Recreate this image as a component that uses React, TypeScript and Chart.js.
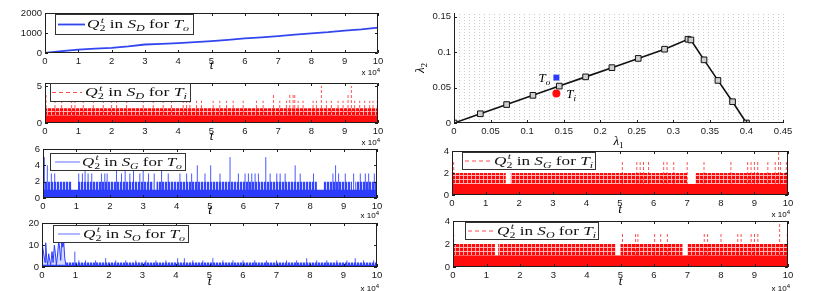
import React, { useEffect, useRef } from "react";
import { Chart, registerables } from "chart.js";

Chart.register(...registerables);

const W = 822;
const H = 291;
const T_UNIT = 1e4;
const SANS = "'Liberation Sans', Arial, Helvetica, sans-serif";
const SERIF = "'Liberation Serif', 'Times New Roman', serif";
const BLUE = "#2b3cff";
const RED = "#ff0d0d";

/* ---------------- data (time in units of 10^4) ---------------- */
// Panel 1: Q2 in S_D for T_o
const sdToTime = [0, 0.5, 1, 1.5, 2, 2.5, 3, 3.5, 4, 4.5, 5, 5.5, 6, 6.5, 7, 7.5, 8, 8.5, 9, 9.5, 10];
const sdToQueue = [0, 95, 170, 215, 255, 330, 424, 460, 491, 540, 593, 660, 729, 780, 847, 920, 983, 1040, 1119, 1185, 1271];

// Panel 2: Q2 in S_D for T_i
const sdTiLevel1 = [[0, 10]];
const sdTiLevel2 = [[0, 10]];
const sdTiSpikeT = [0.03, 0.3, 0.5, 0.8, 0.9, 1.15, 1.45, 1.75, 2.0, 2.15, 2.45, 2.95, 3.25, 3.55, 3.8, 4.15, 4.25, 4.35, 4.55, 4.7, 5.05, 5.25, 5.45, 5.65, 5.95, 6.35, 6.55, 6.86, 7.05, 7.25, 7.35, 7.45, 7.5, 7.6, 7.75, 8.05, 8.15, 8.3, 8.45, 8.6, 8.8, 8.95, 9.1, 9.2, 9.3, 9.45, 9.6, 9.75, 9.85, 9.98];
const sdTiSpikeV = [4, 3, 3, 3, 3, 3, 3, 3, 3, 3, 3, 3, 3, 3, 3, 3, 3, 3, 3, 3, 3, 3, 3, 3, 3, 3, 3, 4, 3, 3, 4, 4, 4, 3, 3, 3, 3, 5, 3, 3, 3, 3, 4, 5, 3, 3, 3, 3, 3, 3];

// Panel 3: Q2 in S_G for T_o
const sgToLevel1 = [[0, 10]];
const sgToLevel2 = [[0, 0.85], [1.05, 3.3], [3.4, 8.2], [8.4, 9.25], [9.35, 10]];
const sgToSpikeT = [0.04, 0.13, 0.25, 0.35, 1.07, 1.18, 1.26, 1.35, 1.46, 1.75, 1.85, 1.92, 2.2, 2.35, 2.46, 2.6, 2.71, 2.9, 3.0, 3.16, 3.33, 3.55, 3.75, 4.1, 4.3, 4.45, 4.62, 4.85, 5.02, 5.3, 5.6, 5.85, 6.05, 6.15, 6.25, 6.35, 6.45, 6.67, 6.8, 7.0, 7.1, 7.25, 7.55, 7.7, 8.1, 8.68, 8.76, 8.85, 9.05, 9.3, 9.5, 9.65, 9.75, 9.92];
const sgToSpikeV = [5, 4, 3, 3, 3, 3, 4, 3, 3, 3, 3, 3, 4, 3, 4, 3, 4, 3, 4, 3, 3, 4, 3, 3, 3, 3, 4, 3, 4, 3, 5, 3, 3, 3, 3, 3, 3, 5, 3, 3, 3, 3, 4, 3, 3, 3, 4, 3, 3, 3, 3, 3, 3, 3];

// Panel 4: Q2 in S_O for T_o
const soToEarlyT = [0, 0.002, 0.02, 0.05, 0.09, 0.11, 0.14, 0.17, 0.2, 0.23, 0.26, 0.3, 0.33, 0.37, 0.4, 0.43, 0.46, 0.5, 0.53, 0.56, 0.59, 0.62, 0.65, 0.68, 0.71, 0.73];
const soToEarlyQ = [0, 9, 10, 6, 2, 11, 4, 1, 6, 3, 1, 7, 2, 10, 6, 1, 5, 12, 8, 3, 13, 9, 11, 4, 1, 0];
const soToLevel1 = [[0, 10]];
const soToLevel2 = [[0.72, 10]];
const soToSpikeT = [0.98, 1.1, 1.3, 1.6, 1.9, 2.2, 2.5, 2.8, 3.1, 3.4, 3.7, 4.05, 4.25, 4.5, 4.8, 5.1, 5.4, 5.7, 6.0, 6.35, 6.7, 7.0, 7.3, 7.6, 7.9, 8.2, 8.5, 8.8, 9.1, 9.35, 9.6, 9.9];
const soToSpikeV = [7, 3, 3, 3, 4, 3, 3, 3, 3, 3, 3, 4, 4, 3, 3, 4, 3, 3, 3, 3, 3, 3, 3, 3, 4, 3, 3, 3, 3, 4, 3, 3];

// Panel 5: stability region (lambda1, lambda2)
const boundaryL1 = [0, 0.036, 0.072, 0.108, 0.144, 0.18, 0.216, 0.252, 0.288, 0.32, 0.324, 0.342, 0.361, 0.381, 0.4];
const boundaryL2 = [0, 0.013, 0.026, 0.039, 0.052, 0.065, 0.078, 0.091, 0.104, 0.118, 0.117, 0.089, 0.06, 0.03, 0];
const pointTo = [0.14, 0.064];
const pointTi = [0.14, 0.0415];

// Panel 6: Q2 in S_G for T_i
const sgTiLevel1 = [[0, 10]];
const sgTiLevel2 = [[0, 1.6], [1.75, 7.0], [7.25, 10]];
const sgTiSpikeT = [0.05, 5.07, 5.5, 5.6, 5.7, 5.85, 6.3, 6.4, 6.6, 7.0, 7.5, 8.3, 8.8, 8.9, 9.0, 9.1, 9.4, 9.62, 9.72, 9.78, 9.95];
const sgTiSpikeV = [3, 3, 3, 3, 3, 3, 3, 3, 3, 3, 3, 3, 3, 3, 3, 3, 3, 3, 4, 3, 3];

// Panel 7: Q2 in S_O for T_i
const soTiLevel1 = [[0, 10]];
const soTiLevel2 = [[0, 1.25], [1.35, 4.85], [5.0, 6.85], [7.0, 10]];
const soTiSpikeT = [0.02, 5.06, 5.45, 5.52, 6.02, 6.2, 6.4, 7.5, 7.6, 8.0, 8.5, 8.6, 8.9, 9.0, 9.1, 9.75, 9.98];
const soTiSpikeV = [3, 3, 3, 3, 3, 3, 3, 3, 3, 3, 3, 3, 3, 3, 3, 4, 3];

/* ---------------- text ---------------- */
type Piece = { t: string; it?: boolean; sub?: string; subIt?: boolean; sup?: string; supIt?: boolean };
const legendPieces = (s: string, tgt: string): Piece[] => [
  { t: "Q", it: true, sub: "2", sup: "t", supIt: true },
  { t: " in " },
  { t: "S", it: true, sub: s, subIt: true },
  { t: " for " },
  { t: "T", it: true, sub: tgt, subIt: true },
];

function drawMath(ctx: CanvasRenderingContext2D, x: number, y: number, pieces: Piece[], size: number, draw = true) {
  let cx = x;
  const small = size * 0.7;
  for (const p of pieces) {
    ctx.font = `${p.it ? "italic " : ""}${size}px ${SERIF}`;
    if (draw) ctx.fillText(p.t, cx, y);
    cx += ctx.measureText(p.t).width;
    if (p.sub || p.sup) {
      let w = 0;
      if (p.sup) {
        ctx.font = `${p.supIt ? "italic " : ""}${small}px ${SERIF}`;
        if (draw) ctx.fillText(p.sup, cx + 1, y - size * 0.42);
        w = Math.max(w, ctx.measureText(p.sup).width + 1);
      }
      if (p.sub) {
        ctx.font = `${p.subIt ? "italic " : ""}${small}px ${SERIF}`;
        if (draw) ctx.fillText(p.sub, cx, y + size * 0.24);
        w = Math.max(w, ctx.measureText(p.sub).width);
      }
      cx += w;
    }
  }
  return cx - x;
}

/* ---------------- helpers ---------------- */
function levelData(segs: number[][], level: number) {
  const pts: any[] = [{ x: 0, y: 0 }];
  for (const [a, b] of segs) {
    pts.push({ x: a * T_UNIT, y: 0 }, { x: a * T_UNIT, y: level }, { x: b * T_UNIT, y: level }, { x: b * T_UNIT, y: 0 });
  }
  pts.push({ x: 10 * T_UNIT, y: 0 });
  return pts;
}
function spikeData(ts: number[], vs: number[]) {
  const pts: any[] = [];
  ts.forEach((t, i) => {
    pts.push({ x: t * T_UNIT, y: 0 }, { x: t * T_UNIT, y: vs[i] }, { x: t * T_UNIT, y: null });
  });
  return pts;
}
function makePattern(ctx: CanvasRenderingContext2D, fg: string, bg: string, w: number, h: number, sw: number, sh: number) {
  const c = document.createElement("canvas");
  c.width = w;
  c.height = h;
  const g = c.getContext("2d")!;
  g.fillStyle = bg;
  g.fillRect(0, 0, w, h);
  g.fillStyle = fg;
  g.fillRect(0, 0, sw, sh);
  return ctx.createPattern(c, "repeat");
}
function noisyDatasets(ctx: CanvasRenderingContext2D, red: boolean, l1: number[][], l2: number[][], st: number[], sv: number[]) {
  const pat = red
    ? makePattern(ctx, "rgba(255,0,0,0.95)", "rgba(255,80,80,0.45)", 4, 4, 3, 3)
    : makePattern(ctx, "rgba(43,60,255,0.95)", "rgba(110,125,255,0.35)", 3, 1, 2, 1);
  return [
    { data: levelData(l1, 1), backgroundColor: red ? RED : BLUE, borderColor: "transparent", borderWidth: 0, fill: "origin", pointRadius: 0 },
    { data: levelData(l2, 2), backgroundColor: pat, borderColor: "transparent", borderWidth: 0, fill: "origin", pointRadius: 0 },
    {
      data: spikeData(st, sv),
      borderColor: red ? "rgba(255,40,40,0.8)" : "rgba(43,60,255,0.85)",
      borderWidth: 1,
      borderDash: red ? [3, 2] : [],
      fill: false,
      pointRadius: 0,
    },
  ];
}

type Legend = { box: number[]; sample: number[]; color: string; lw: number; dash: number[]; tx: number; tw: number; pieces: Piece[] };
type Panel = {
  rect: number[];
  x: { min: number; max: number; step: number; fmt: (v: number) => string };
  y: { min: number; max: number; step: number; fmt: (v: number) => string };
  frame: "box" | "axes";
  datasets: (ctx: CanvasRenderingContext2D) => any[];
  legend?: Legend;
  tLabel?: number[]; // [y of "t", y of "x 10^4"]
  extra?: (chart: any) => void;
  under?: (chart: any) => void;
};

const tFmt = (v: number) => String(Math.round(v / T_UNIT));
const numFmt = (v: number) => String(Number(v.toFixed(3)));
const tAxis = { min: 0, max: 10 * T_UNIT, step: T_UNIT, fmt: tFmt };

const PANELS: Panel[] = [
  {
    rect: [45, 13, 378, 53],
    x: tAxis,
    y: { min: 0, max: 2000, step: 1000, fmt: numFmt },
    frame: "box",
    datasets: () => [
      {
        data: sdToTime.map((t, i) => ({ x: t * T_UNIT, y: sdToQueue[i] })),
        borderColor: "#3246f0",
        borderWidth: 1.8,
        fill: false,
        pointRadius: 0,
      },
    ],
    legend: { box: [55, 14, 138, 20], sample: [58, 85], color: "#3246f0", lw: 1.8, dash: [], tx: 87, tw: 102, pieces: legendPieces("D", "o") },
    tLabel: [66, 72],
  },
  {
    rect: [45, 83, 378, 123],
    x: tAxis,
    y: { min: 0, max: 5.4, step: 5, fmt: numFmt },
    frame: "box",
    datasets: (ctx) => noisyDatasets(ctx, true, sdTiLevel1, sdTiLevel2, sdTiSpikeT, sdTiSpikeV),
    legend: { box: [50, 83, 140, 18], sample: [52, 82], color: "rgba(255,60,60,0.9)", lw: 1, dash: [4, 3], tx: 85, tw: 102, pieces: legendPieces("D", "i") },
    tLabel: [137, 142],
  },
  {
    rect: [43, 149, 377, 198],
    x: tAxis,
    y: { min: 0, max: 6, step: 2, fmt: numFmt },
    frame: "box",
    datasets: (ctx) => noisyDatasets(ctx, false, sgToLevel1, sgToLevel2, sgToSpikeT, sgToSpikeV),
    legend: { box: [50, 153, 135, 17], sample: [55, 80], color: "#6070ff", lw: 1, dash: [], tx: 82, tw: 100, pieces: legendPieces("G", "o") },
    tLabel: [211, 215],
  },
  {
    rect: [42, 223, 377, 267],
    x: tAxis,
    y: { min: 0, max: 20, step: 10, fmt: numFmt },
    frame: "box",
    datasets: (ctx) => [
      {
        data: soToEarlyT.map((t, i) => ({ x: t * T_UNIT, y: soToEarlyQ[i] })),
        borderColor: BLUE,
        borderWidth: 1,
        backgroundColor: "rgba(43,60,255,0.2)",
        fill: "origin",
        pointRadius: 0,
      },
      ...noisyDatasets(ctx, false, soToLevel1, soToLevel2, soToSpikeT, soToSpikeV),
    ],
    legend: { box: [53, 225, 135, 17], sample: [58, 80], color: "#6070ff", lw: 1, dash: [], tx: 83, tw: 102, pieces: legendPieces("O", "o") },
    tLabel: [282, 288],
  },
  {
    rect: [454, 13, 783, 123],
    x: { min: 0, max: 0.45, step: 0.05, fmt: numFmt },
    y: { min: 0, max: 0.155, step: 0.05, fmt: numFmt },
    frame: "axes",
    datasets: () => [
      { data: [{ x: pointTo[0], y: pointTo[1] }], showLine: false, pointStyle: "rect", pointRadius: 4.2, pointBackgroundColor: BLUE, pointBorderColor: BLUE, pointBorderWidth: 0 },
      { data: [{ x: pointTi[0], y: pointTi[1] }], showLine: false, pointStyle: "circle", pointRadius: 4, pointBackgroundColor: RED, pointBorderColor: RED, pointBorderWidth: 0 },
      {
        data: boundaryL1.map((v, i) => ({ x: v, y: boundaryL2[i] })),
        borderColor: "#111",
        borderWidth: 1.6,
        pointStyle: "rect",
        pointRadius: 4,
        pointBorderColor: "#111",
        pointBorderWidth: 1,
        pointBackgroundColor: "#cfcfcf",
        fill: false,
      },
    ],
    under: (chart) => {
      const ctx = chart.ctx;
      const xs = chart.scales.x;
      const ys = chart.scales.y;
      ctx.save();
      ctx.strokeStyle = "rgba(0,0,0,0.2)";
      ctx.lineWidth = 1;
      ctx.setLineDash([1, 2]);
      const step = 0.45 / 66;
      for (let k = 1; k <= 66; k++) {
        const px = Math.round(xs.getPixelForValue(k * step)) + 0.5;
        ctx.beginPath();
        ctx.moveTo(px, ys.getPixelForValue(0));
        ctx.lineTo(px, chart.chartArea.top);
        ctx.stroke();
      }
      ctx.restore();
    },
    extra: (chart) => {
      const ctx = chart.ctx;
      const xs = chart.scales.x;
      const ys = chart.scales.y;
      ctx.save();
      ctx.fillStyle = "#000";
      ctx.textBaseline = "alphabetic";
      const pTo: Piece[] = [{ t: "T", it: true, sub: "o", subIt: true }];
      const pTi: Piece[] = [{ t: "T", it: true, sub: "i", subIt: true }];
      const wTo = drawMath(ctx, 0, 0, pTo, 13, false);
      drawMath(ctx, xs.getPixelForValue(pointTo[0]) - 6 - wTo, ys.getPixelForValue(pointTo[1]) + 4, pTo, 13);
      drawMath(ctx, xs.getPixelForValue(pointTi[0]) + 10, ys.getPixelForValue(pointTi[1]) + 4, pTi, 13);
      // axis titles
      const l1: Piece[] = [{ t: "λ", it: true, sub: "1" }];
      const l2: Piece[] = [{ t: "λ", it: true, sub: "2" }];
      const w1 = drawMath(ctx, 0, 0, l1, 13, false);
      drawMath(ctx, (chart.chartArea.left + chart.chartArea.right) / 2 - w1 / 2, 145, l1, 13);
      ctx.translate(424, 68);
      ctx.rotate(-Math.PI / 2);
      const w2 = drawMath(ctx, 0, 0, l2, 13, false);
      drawMath(ctx, -w2 / 2, 0, l2, 13);
      ctx.restore();
    },
  },
  {
    rect: [452, 151, 788, 195],
    x: tAxis,
    y: { min: 0, max: 4, step: 2, fmt: numFmt },
    frame: "box",
    datasets: (ctx) => noisyDatasets(ctx, true, sgTiLevel1, sgTiLevel2, sgTiSpikeT, sgTiSpikeV),
    legend: { box: [462, 152, 133, 17], sample: [465, 491], color: "rgba(255,60,60,0.9)", lw: 1, dash: [4, 3], tx: 494, tw: 99, pieces: legendPieces("G", "i") },
    tLabel: [210, 214],
  },
  {
    rect: [453, 221, 788, 267],
    x: tAxis,
    y: { min: 0, max: 4, step: 2, fmt: numFmt },
    frame: "box",
    datasets: (ctx) => noisyDatasets(ctx, true, soTiLevel1, soTiLevel2, soTiSpikeT, soTiSpikeV),
    legend: { box: [465, 222, 133, 17], sample: [468, 494], color: "rgba(255,60,60,0.9)", lw: 1, dash: [4, 3], tx: 497, tw: 99, pieces: legendPieces("O", "i") },
    tLabel: [282, 288],
  },
];

const YW = 30;
const XH = 12;

function drawFrame(chart: any, p: Panel) {
  const ctx: CanvasRenderingContext2D = chart.ctx;
  const { left: L, right: R, top: T, bottom: B } = chart.chartArea;
  const xs = chart.scales.x;
  const ys = chart.scales.y;
  ctx.save();
  ctx.setLineDash([]);
  ctx.strokeStyle = "#1e1e1e";
  ctx.lineWidth = 1;
  ctx.beginPath();
  if (p.frame === "box") {
    ctx.rect(L + 0.5, T + 0.5, R - L - 1, B - T - 1);
  } else {
    ctx.moveTo(L + 0.5, T);
    ctx.lineTo(L + 0.5, B - 0.5);
    ctx.lineTo(R, B - 0.5);
  }
  ctx.stroke();
  ctx.beginPath();
  for (const t of xs.ticks) {
    const px = Math.round(xs.getPixelForValue(t.value)) + 0.5;
    ctx.moveTo(px, B);
    ctx.lineTo(px, B - 3);
    if (p.frame === "box") {
      ctx.moveTo(px, T);
      ctx.lineTo(px, T + 3);
    }
  }
  for (const t of ys.ticks) {
    const py = Math.round(ys.getPixelForValue(t.value)) + 0.5;
    ctx.moveTo(L, py);
    ctx.lineTo(L + 3, py);
    if (p.frame === "box") {
      ctx.moveTo(R, py);
      ctx.lineTo(R - 3, py);
    }
  }
  ctx.stroke();
  ctx.restore();
}

function drawLegend(ctx: CanvasRenderingContext2D, lg: Legend) {
  const [bx, by, bw, bh] = lg.box;
  ctx.save();
  ctx.fillStyle = "#fff";
  ctx.fillRect(bx, by, bw, bh);
  ctx.strokeStyle = "#333";
  ctx.lineWidth = 1;
  ctx.setLineDash([]);
  ctx.strokeRect(bx + 0.5, by + 0.5, bw, bh);
  const cy = by + bh / 2 + 0.5;
  ctx.strokeStyle = lg.color;
  ctx.lineWidth = lg.lw;
  ctx.setLineDash(lg.dash);
  ctx.beginPath();
  ctx.moveTo(lg.sample[0], cy);
  ctx.lineTo(lg.sample[1], cy);
  ctx.stroke();
  ctx.setLineDash([]);
  ctx.fillStyle = "#111";
  ctx.textBaseline = "alphabetic";
  ctx.textAlign = "left";
  const nat = drawMath(ctx, 0, 0, lg.pieces, 13, false);
  ctx.translate(lg.tx, by + bh / 2 + 4);
  ctx.scale(lg.tw / nat, 1);
  drawMath(ctx, 0, 0, lg.pieces, 13);
  ctx.restore();
}

function drawTLabels(chart: any, p: Panel) {
  if (!p.tLabel) return;
  const ctx: CanvasRenderingContext2D = chart.ctx;
  const { left: L, right: R } = chart.chartArea;
  ctx.save();
  ctx.fillStyle = "#000";
  ctx.textBaseline = "middle";
  ctx.textAlign = "center";
  ctx.font = `italic 13px ${SERIF}`;
  ctx.fillText("t", (L + R) / 2, p.tLabel[0]);
  ctx.textAlign = "left";
  ctx.font = `8px ${SANS}`;
  const base = "x 10";
  const w1 = ctx.measureText(base).width;
  ctx.font = `6px ${SANS}`;
  const w2 = ctx.measureText("4").width;
  ctx.font = `8px ${SANS}`;
  ctx.fillText(base, R + 2 - w1 - w2, p.tLabel[1] + 1);
  ctx.font = `6px ${SANS}`;
  ctx.fillText("4", R + 2 - w2, p.tLabel[1] - 2);
  ctx.restore();
}

function buildConfig(p: Panel, ctx: CanvasRenderingContext2D, idx: number): any {
  const [L, T, R, B] = p.rect;
  const tickFont = { family: SANS, size: 9.5 };
  return {
    type: "line",
    data: { datasets: p.datasets(ctx) },
    options: {
      animation: false,
      responsive: false,
      events: [],
      layout: { padding: { left: L - YW, top: T, right: W - R, bottom: H - B - XH } },
      elements: { line: { tension: 0 }, point: { radius: 0 } },
      plugins: { legend: { display: false }, tooltip: { enabled: false } },
      scales: {
        x: {
          type: "linear",
          min: p.x.min,
          max: p.x.max,
          grid: { display: false, drawTicks: false },
          border: { display: false },
          ticks: { stepSize: p.x.step, includeBounds: false, autoSkip: false, maxRotation: 0, padding: 3, color: "#1a1a1a", font: tickFont, callback: (v: number) => p.x.fmt(v) },
          afterFit: (s: any) => {
            s.height = XH;
          },
        },
        y: {
          type: "linear",
          min: p.y.min,
          max: p.y.max,
          grid: { display: false, drawTicks: false },
          border: { display: false },
          ticks: { stepSize: p.y.step, includeBounds: false, autoSkip: false, padding: 3, color: "#1a1a1a", font: tickFont, callback: (v: number) => p.y.fmt(v) },
          afterFit: (s: any) => {
            s.width = YW;
          },
        },
      },
    },
    plugins: [
      {
        id: "decor" + idx,
        beforeDatasetsDraw(chart: any) {
          if (p.under) p.under(chart);
        },
        afterDraw(chart: any) {
          drawFrame(chart, p);
          if (p.extra) p.extra(chart);
          if (p.legend) drawLegend(chart.ctx, p.legend);
          drawTLabels(chart, p);
        },
      },
    ],
  };
}

export default function App() {
  const refs = useRef<(HTMLCanvasElement | null)[]>([]);
  useEffect(() => {
    const charts = PANELS.map((p, i) => {
      const cv = refs.current[i]!;
      return new Chart(cv, buildConfig(p, cv.getContext("2d")!, i));
    });
    return () => charts.forEach((c) => c.destroy());
  }, []);
  return (
    <div style={{ position: "absolute", left: 0, top: 0, width: W, height: H, background: "#fff", overflow: "hidden" }}>
      {PANELS.map((_, i) => (
        <canvas
          key={i}
          ref={(el) => {
            refs.current[i] = el;
          }}
          width={W}
          height={H}
          style={{ position: "absolute", left: 0, top: 0, width: W, height: H }}
        />
      ))}
    </div>
  );
}
